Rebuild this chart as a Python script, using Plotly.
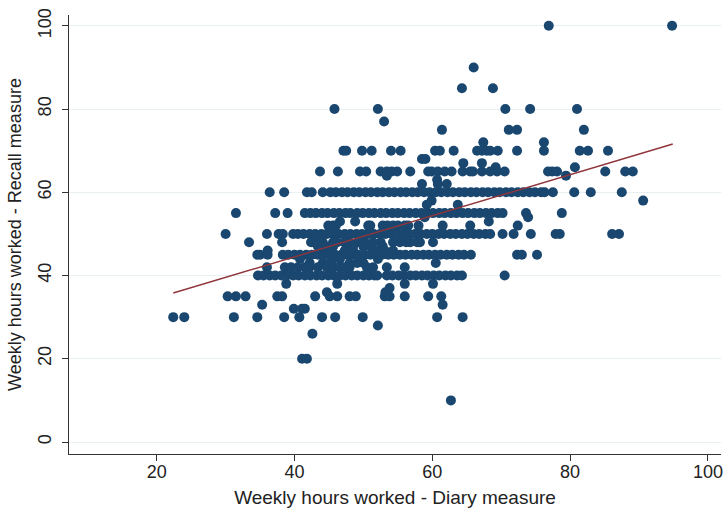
import plotly.graph_objects as go

# Recall-measure rows (y value) with the diary-measure hours (x) observed at that level
x_at_100 = [76.9, 94.8]
x_at_90 = [66.0]
x_at_85 = [64.3, 68.8]
x_at_80 = [45.8, 52.1, 70.6, 74.2, 81.0]
x_at_77 = [53.0]
x_at_75 = [61.4, 71.1, 72.3, 82.0]
x_at_72 = [67.4, 76.2]
x_at_70 = [47.1, 47.5, 49.8, 51.2, 54.0, 55.4, 60.4, 61.1, 63.1, 66.5, 67.2, 67.9,
           68.4, 69.5, 72.3, 76.2, 81.4, 82.6, 85.5]
x_at_68 = [58.5, 59.0]
x_at_67 = [64.5, 67.2]
x_at_66 = [69.2, 80.7]
x_at_65 = [43.7, 46.3, 49.5, 50.4, 52.5, 53.4, 54.1, 54.9, 56.8, 59.4, 59.9, 60.8,
           61.8, 62.8, 64.4, 65.5, 65.9, 67.2, 68.4, 69.4, 70.5, 76.8, 77.4, 78.1,
           85.1, 88.0, 89.1]
x_at_64 = [53.4, 79.4]
x_at_63 = [60.7]
x_at_62 = [58.5, 60.8, 62.1]
x_at_60 = [36.4, 38.5, 41.8, 42.5, 44.1, 45.2, 46.0, 46.9, 47.7, 48.6, 49.4, 50.3,
           51.1, 52.0, 52.8, 53.7, 54.5, 55.4, 56.2, 57.1, 57.9, 58.8, 59.6, 60.5,
           61.3, 62.2, 63.0, 63.9, 64.7, 65.6, 66.4, 67.3, 68.1, 69.0, 69.8, 70.7,
           71.5, 72.4, 73.2, 74.1, 74.9, 75.8, 76.3, 77.5, 80.6, 83.0, 87.5]
x_at_58 = [59.9, 90.6]
x_at_57 = [59.2, 63.7]
x_at_55 = [31.5, 37.2, 39.0, 41.5, 42.3, 43.1, 44.0, 44.8, 45.7, 46.5, 47.4, 48.1,
           49.1, 49.9, 50.8, 51.6, 52.5, 53.3, 54.2, 55.0, 55.9, 56.7, 57.6, 58.4,
           59.3, 60.1, 61.0, 61.8, 62.7, 63.5, 64.4, 65.2, 66.1, 66.9, 67.8, 68.6,
           69.5, 70.2, 73.6, 78.8]
x_at_54 = [58.9, 73.9]
x_at_53 = [46.6, 48.8, 68.2]
x_at_52 = [44.9, 45.6, 46.0, 50.7, 51.0, 52.8, 53.5, 54.3, 55.0, 56.0, 56.5, 58.0,
           61.5, 65.5, 72.4]
x_at_50 = [30.0, 36.0, 37.7, 38.3, 39.8, 40.5, 41.3, 42.2, 43.0, 43.9, 44.7, 45.6,
           46.4, 47.3, 48.1, 49.0, 49.8, 50.7, 51.5, 52.4, 53.2, 54.1, 54.9, 55.8,
           56.6, 57.5, 58.3, 59.2, 60.0, 60.9, 61.7, 62.6, 63.4, 64.3, 65.1, 66.0,
           66.8, 67.7, 68.4, 70.2, 71.8, 74.3, 77.9, 78.5, 86.1, 87.1]
x_at_48 = [33.4, 38.2, 42.4, 42.7, 43.3, 44.1, 45.6, 46.0, 46.2, 47.2, 47.6, 48.0,
           49.1, 49.9, 50.2, 51.4, 52.5, 54.3, 55.3, 56.2, 56.8, 57.8, 58.2, 60.1]
x_at_47 = [43.4, 45.0, 45.6, 48.0, 48.5, 50.0, 51.0, 52.8]
x_at_46 = [36.1, 44.4, 45.4, 47.3, 48.5, 52.0, 53.1, 54.3]
x_at_45 = [34.6, 35.0, 36.1, 38.3, 39.1, 40.0, 40.8, 41.7, 42.5, 43.4, 44.2, 45.1,
           45.9, 46.8, 47.6, 48.5, 49.3, 50.2, 51.0, 51.9, 52.7, 53.6, 54.4, 55.3,
           56.1, 57.0, 57.8, 58.7, 59.5, 60.4, 61.2, 62.1, 62.9, 63.8, 64.6, 65.6,
           72.3, 73.0, 75.2]
x_at_44 = [40.8, 46.6, 52.1]
x_at_43 = [42.2, 44.1, 45.1, 45.4, 48.0, 49.1, 50.0, 60.5]
x_at_42 = [36.0, 38.6, 39.5, 40.5, 41.5, 42.2, 43.4, 44.7, 45.6, 46.5, 47.3, 48.0,
           50.5, 51.4, 53.4, 56.0]
x_at_40 = [34.7, 35.5, 36.4, 37.2, 38.1, 38.9, 39.8, 40.6, 41.5, 42.3, 43.2, 44.0,
           44.9, 45.7, 46.6, 47.4, 48.3, 49.1, 50.0, 50.8, 51.6, 52.0, 53.4, 54.2,
           55.1, 55.9, 56.8, 57.6, 58.5, 59.3, 60.2, 61.0, 61.9, 62.7, 63.6, 64.3,
           70.5]
x_at_38 = [38.8, 46.2, 56.0, 60.1]
x_at_37 = [53.8]
x_at_36 = [44.7, 53.2]
x_at_35 = [30.3, 31.5, 32.9, 37.5, 38.2, 43.0, 45.1, 46.2, 48.0, 48.9, 53.1, 53.8,
           56.0, 59.4, 61.3]
x_at_33 = [35.3, 61.5]
x_at_32 = [39.9, 41.1, 41.5]
x_at_30 = [22.4, 24.0, 31.2, 34.6, 38.5, 40.7, 44.0, 45.9, 49.9, 60.7, 64.4]
x_at_28 = [52.1]
x_at_26 = [42.6]
x_at_20 = [41.1, 41.8]
x_at_10 = [62.7]

rows = [
    (100, x_at_100), (90, x_at_90), (85, x_at_85), (80, x_at_80), (77, x_at_77),
    (75, x_at_75), (72, x_at_72), (70, x_at_70), (68, x_at_68), (67, x_at_67),
    (66, x_at_66), (65, x_at_65), (64, x_at_64), (63, x_at_63), (62, x_at_62),
    (60, x_at_60), (58, x_at_58), (57, x_at_57), (55, x_at_55), (54, x_at_54),
    (53, x_at_53), (52, x_at_52), (50, x_at_50), (48, x_at_48), (47, x_at_47),
    (46, x_at_46), (45, x_at_45), (44, x_at_44), (43, x_at_43), (42, x_at_42),
    (40, x_at_40), (38, x_at_38), (37, x_at_37), (36, x_at_36), (35, x_at_35),
    (33, x_at_33), (32, x_at_32), (30, x_at_30), (28, x_at_28), (26, x_at_26),
    (20, x_at_20), (10, x_at_10),
]

diary = []
recall = []
for yv, xs in rows:
    diary.extend(xs)
    recall.extend([yv] * len(xs))

# Fitted line end points
fit_x = [22.4, 94.9]
fit_y = [35.8, 71.6]

x_ticks = [20, 40, 60, 80, 100]
y_ticks = [0, 20, 40, 60, 80, 100]

font_family = "Liberation Sans, Arial, sans-serif"

fig = go.Figure()
fig.add_trace(go.Scatter(
    x=diary, y=recall, mode="markers",
    marker=dict(color="#1a476f", size=10, line=dict(width=0)),
    showlegend=False, hoverinfo="x+y",
))
fig.add_trace(go.Scatter(
    x=fit_x, y=fit_y, mode="lines",
    line=dict(color="#90353b", width=1.4),
    showlegend=False,
))

fig.update_layout(
    width=725, height=508,
    margin=dict(l=69, r=4, t=15, b=54),
    paper_bgcolor="white", plot_bgcolor="white",
    font=dict(family=font_family, size=18, color="#222222"),
    xaxis=dict(
        range=[7.27, 101.9], tickvals=x_ticks, ticktext=[str(v) for v in x_ticks],
        showgrid=False, zeroline=False, automargin=False,
        showline=True, linecolor="#333333", linewidth=1,
        ticks="outside", ticklen=6, tickcolor="#333333",
        tickfont=dict(size=18), ticklabelstandoff=-5,
        title=dict(text="Weekly hours worked - Diary measure", font=dict(size=19), standoff=11),
    ),
    yaxis=dict(
        range=[-2.88, 102.6], tickvals=y_ticks, ticktext=[str(v) for v in y_ticks],
        showgrid=True, gridcolor="#e8f0f2", gridwidth=1, zeroline=False, automargin=False,
        showline=True, linecolor="#333333", linewidth=1,
        ticks="outside", ticklen=6, tickcolor="#333333",
        tickangle=-90, tickfont=dict(size=18), ticklabelstandoff=4,
        title=dict(text="Weekly hours worked - Recall measure", font=dict(size=18), standoff=8),
    ),
)

fig.write_html(
    "out.html",
    config={"displayModeBar": False},
    post_script="document.body.style.margin='0';document.body.style.padding='0';"
                "document.body.style.overflow='hidden';",
)
